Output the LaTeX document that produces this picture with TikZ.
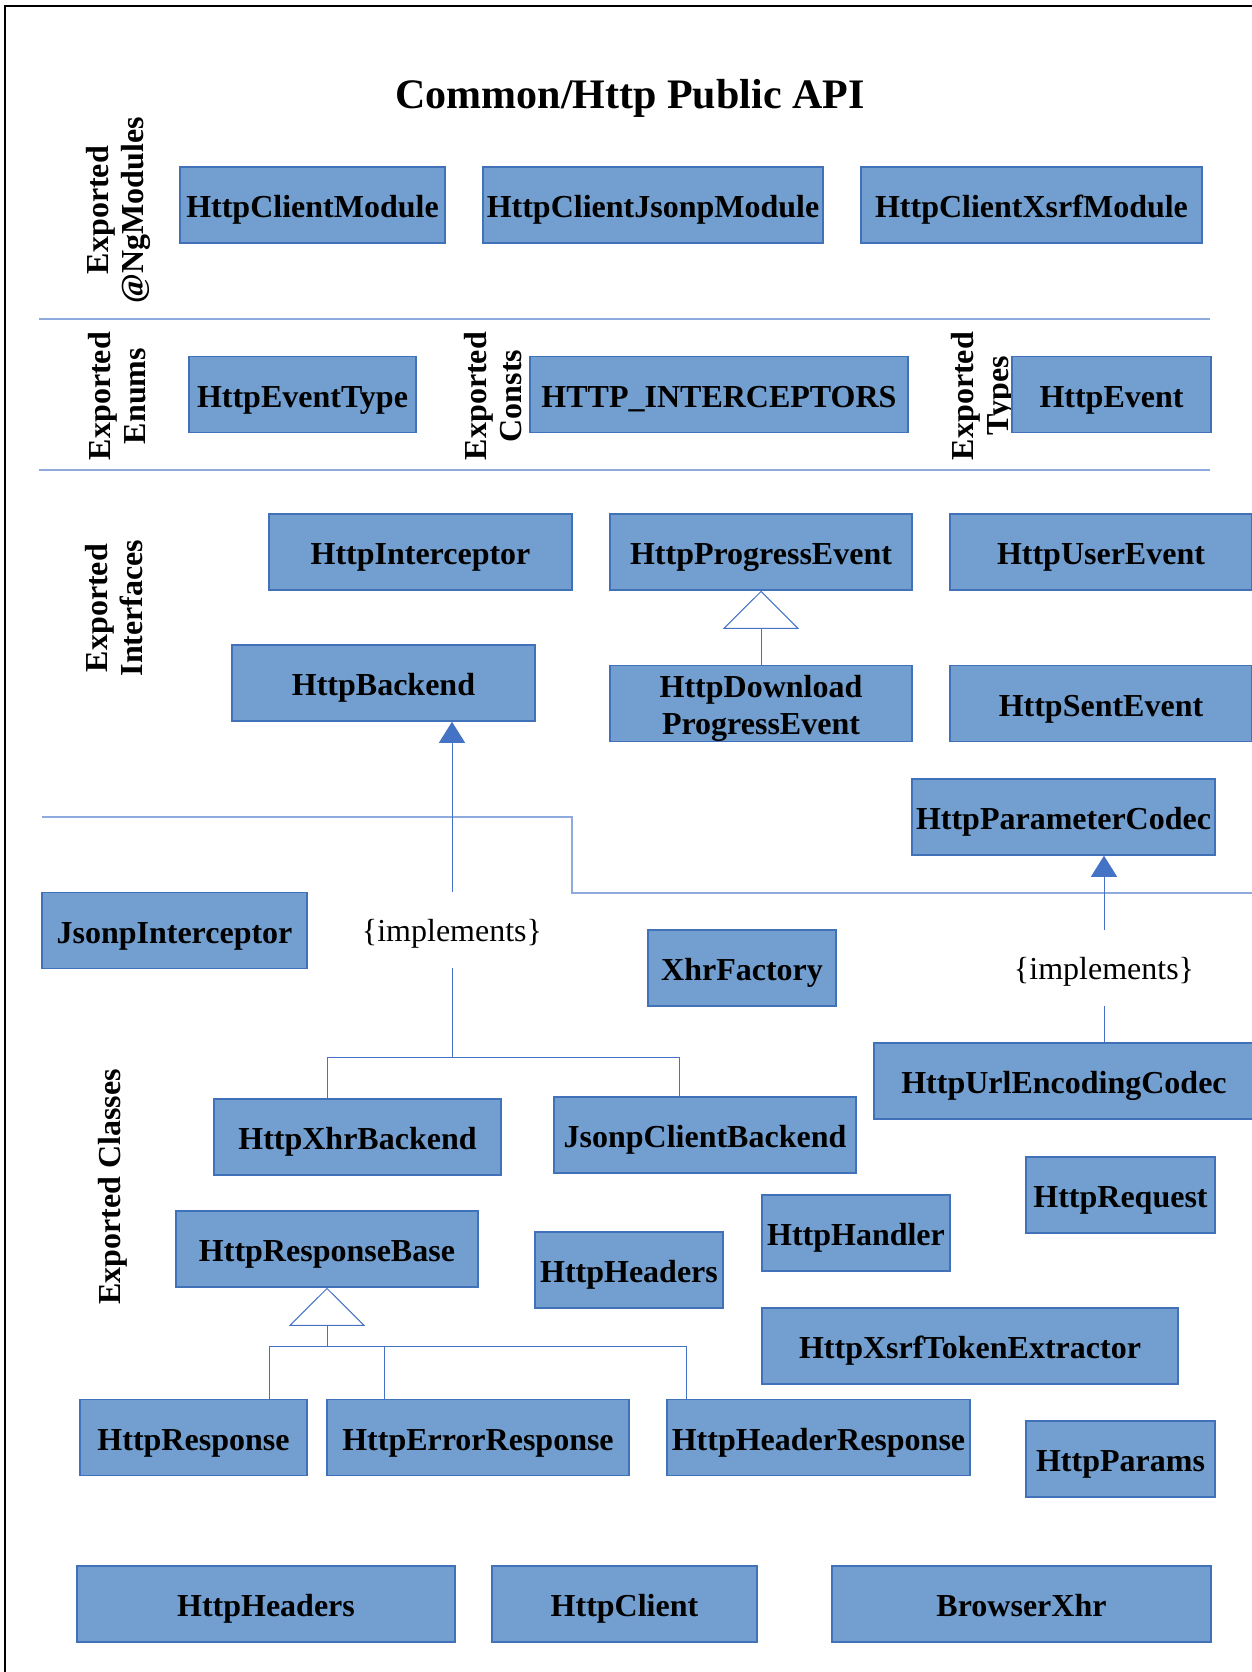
\documentclass[tikz,border=0pt]{standalone}
\usepackage{fontspec}
\setmainfont{Liberation Serif}
\usepackage{tikz}
\usetikzlibrary{arrows.meta}
\definecolor{boxfill}{RGB}{114,159,207}
\definecolor{boxline}{RGB}{65,113,185}
\definecolor{connline}{RGB}{68,114,196}
\definecolor{sepline}{RGB}{143,170,220}
\tikzstyle{class box}=[rectangle,draw=boxline,fill=boxfill,line width=1.5pt,minimum height=76pt,inner sep=0pt,align=center,text height=32pt,text depth=7pt,font=\fontsize{32}{37}\selectfont\bfseries]
\tikzstyle{section label}=[rotate=90,inner sep=0pt,align=center,font=\fontsize{32}{35}\selectfont\bfseries]
\tikzstyle{impl note}=[minimum height=76pt,inner sep=0pt,text height=30pt,text depth=7pt,font=\fontsize{32}{37}\selectfont]
\tikzstyle{conn}=[draw=connline,line width=1pt]
\tikzstyle{gen arrow}=[conn,-{Triangle[open,length=38pt,width=76pt]}]
\tikzstyle{impl arrow}=[conn,-{Triangle[length=21pt,width=26pt]}]
\tikzstyle{divider}=[draw=sepline,line width=2pt]

\begin{document}
\begin{tikzpicture}[x=1pt,y=-1pt]
    \useasboundingbox (0,0) rectangle (1251,1672);
    \draw[line width=1.5pt] (5,1680) -- (5,6) -- (1260,6);
    \node[font=\fontsize{42}{48}\selectfont\bfseries,anchor=base] (title) at (630,109) {Common/Http Public API};
    % section labels
    \node[section label] (secmod) at (118,210) {Exported\\@NgModules};
    \foreach \pos/\name/\text in {{(117,396)/secenum/Enums}, {(493,396)/secconst/Consts},
        {(983,396)/sectype/Types}, {(114,608)/secintf/Interfaces}}
        \node[section label] (\name) at \pos {Exported\\\text};
    \node[section label] (seccls) at (113,1187) {Exported Classes};
    % dividers
    \draw[divider] (39,319) -- (1210,319);
    \draw[divider] (39,470) -- (1210,470);
    \draw[divider] (42,817) -| (572,893) -- (1260,893);
    % boxes
    \foreach \pos/\w/\name/\text in {
        {(312.5,205)/265/cmod/HttpClientModule}, {(653,205)/340/jmod/HttpClientJsonpModule},
        {(1031.5,205)/341/xmod/HttpClientXsrfModule},
        {(302.5,394.5)/227/evtype/HttpEventType}, {(719,394.5)/378/intcs/HTTP\_INTERCEPTORS},
        {(1111.5,394.5)/199/event/HttpEvent},
        {(420.5,552)/303/intc/HttpInterceptor}, {(761,552)/302/prog/HttpProgressEvent},
        {(1101,552)/302/user/HttpUserEvent},
        {(383.5,683)/303/backend/HttpBackend},
        {(1101,703.5)/302/sent/HttpSentEvent},
        {(1063.5,817)/303/pcodec/HttpParameterCodec},
        {(174.5,930.5)/265/jintc/JsonpInterceptor}, {(742,968)/188/xfac/XhrFactory},
        {(1064,1081)/380/ucodec/HttpUrlEncodingCodec},
        {(357.5,1137)/287/xhr/HttpXhrBackend}, {(705,1135)/302/jcb/JsonpClientBackend},
        {(1120.5,1195)/189/req/HttpRequest},
        {(327,1249)/302/rbase/HttpResponseBase}, {(629,1270)/188/hdrs/HttpHeaders},
        {(856,1233)/188/handler/HttpHandler}, {(970,1346)/416/xsrf/HttpXsrfTokenExtractor},
        {(193.5,1437.5)/227/resp/HttpResponse}, {(478,1437.5)/302/eresp/HttpErrorResponse},
        {(818.5,1437.5)/303/hresp/HttpHeaderResponse}, {(1120.5,1459)/189/params/HttpParams},
        {(266,1604)/378/hdrs2/HttpHeaders}, {(624.5,1604)/265/client/HttpClient},
        {(1021.5,1604)/379/bxhr/BrowserXhr}}
        \node[class box,minimum width=\w pt] (\name) at \pos {\text};
    \node[class box,minimum width=302pt,text height=69pt] (dlprog) at (761,703.5) {HttpDownload\\ProgressEvent};
    % connectors
    \draw[gen arrow] (dlprog) -- (prog);
    \node[impl note] (impl1) at (452,930) {\{implements\}};
    \node[impl note] (impl2) at (1104,968) {\{implements\}};
    \draw[impl arrow] (impl1.north) -- (impl1.north |- backend.south);
    \coordinate (bus1) at (452,1057);
    \draw[conn] (impl1.south) -- (bus1);
    \draw[conn] ([xshift=-30.5pt]xhr.north) |- (bus1) -| ([xshift=-26pt]jcb.north);
    \draw[impl arrow] (impl2.north) -- (impl2.north |- pcodec.south);
    \draw[conn] (impl2.south) -- (impl2.south |- ucodec.north);
    \coordinate (bus2) at (327,1346);
    \draw[gen arrow] (bus2) -- (rbase);
    \draw[conn] ([xshift=75.5pt]resp.north) |- (bus2) -| ([xshift=-132.5pt]hresp.north);
    \draw[conn] ([xshift=-94pt]eresp.north) -- ([xshift=-94pt]eresp.north |- bus2);
\end{tikzpicture}
\end{document}
